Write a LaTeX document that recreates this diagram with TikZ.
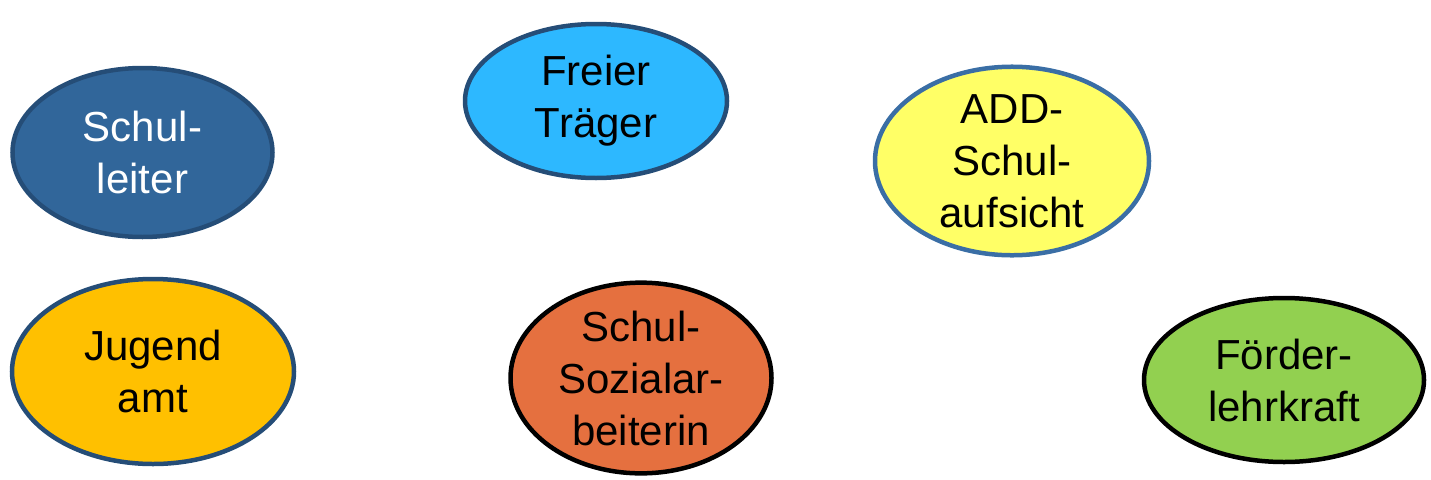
\documentclass[tikz,border=0pt]{standalone}
\usepackage{fontspec}
\setmainfont{Liberation Sans}
\usetikzlibrary{shapes.geometric}
\definecolor{cSL}{HTML}{31669A}
\definecolor{cSLb}{HTML}{254D77}
\definecolor{cFT}{HTML}{2DB8FF}
\definecolor{cADD}{HTML}{FFFF66}
\definecolor{cADDb}{HTML}{3A6EA5}
\definecolor{cJA}{HTML}{FFC000}
\definecolor{cSZ}{HTML}{E5703F}
\definecolor{cFL}{HTML}{92D050}
\tikzset{
  bubble/.style={ellipse, inner sep=0pt, line width=4.5pt, align=center,
    font=\fontsize{42}{52}\selectfont, text=black},
}
\begin{document}
\begin{tikzpicture}[x=1pt,y=-1pt]
\useasboundingbox (0,0) rectangle (1431,479);
\node[bubble, draw=cSLb, fill=cSL, text=white, minimum width=260pt, minimum height=169pt] (sl) at (142.5,152.5) {Schul-\\leiter};
\node[bubble, draw=cSLb, fill=cFT, minimum width=262pt, minimum height=154pt] (ft) at (596,101) {Freier\\Träger};
\node[bubble, draw=cADDb, fill=cADD, minimum width=274pt, minimum height=188pt] (add) at (1012,161) {ADD-\\Schul-\\aufsicht};
\node[bubble, draw=cSLb, fill=cJA, minimum width=282pt, minimum height=185pt] (ja) at (153,371.5) {Jugend\\amt};
\node[bubble, draw=black, fill=cSZ, minimum width=261pt, minimum height=186pt] (sz) at (641,378) {Schul-\\Sozialar-\\beiterin};
\node[bubble, draw=black, fill=cFL, minimum width=280pt, minimum height=164pt] (fl) at (1284,380) {Förder-\\lehrkraft};
\end{tikzpicture}
\end{document}
